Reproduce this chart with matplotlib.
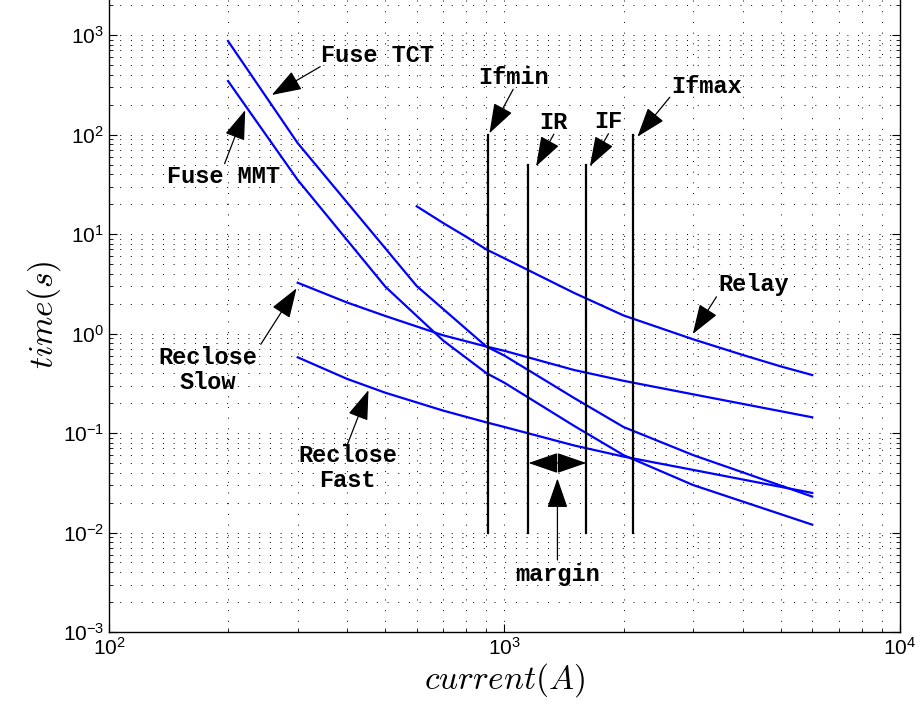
import numpy as np
import matplotlib
matplotlib.use('Agg')
import matplotlib.pyplot as plt

# time-current curves (current in A, time in s)
tct_i = [200, 300, 600, 900, 1000, 1500, 2000, 3000, 6000]
tct_t = [870, 82, 3.0, 0.74, 0.60, 0.225, 0.115, 0.06, 0.023]

mmt_i = [200, 300, 500, 700, 900, 1000, 1500, 2000, 3000, 6000]
mmt_t = [345, 35, 2.95, 0.85, 0.40, 0.32, 0.118, 0.06, 0.030, 0.012]

slow_i = [300, 400, 500, 700, 900, 1000, 1500, 2000, 3000, 6000]
slow_t = [3.24, 2.05, 1.5, 0.96, 0.74, 0.67, 0.43, 0.335, 0.245, 0.144]

fast_i = [300, 400, 500, 700, 900, 1000, 1500, 2000, 3000, 6000]
fast_t = [0.577, 0.35, 0.254, 0.168, 0.128, 0.115, 0.075, 0.058, 0.0426, 0.025]

relay_i = [600, 700, 800, 900, 1000, 1500, 2000, 3000, 4000, 5000, 6000]
relay_t = [19, 12.9, 9.4, 7.0, 5.7, 2.56, 1.52, 0.875, 0.61, 0.467, 0.383]

# fault current markers
mark_names = ['Ifmin', 'IR', 'IF', 'Ifmax']
mark_i = [910, 1150, 1610, 2110]
mark_top = [100, 50, 50, 100]
mark_bottom = 0.01

plt.rcParams['mathtext.fontset'] = 'cm'
plt.rcParams['font.family'] = ['Liberation Sans', 'DejaVu Sans']

fig = plt.figure(figsize=(9.16, 7.17), dpi=100)
# axes run up past the top edge of the figure
ax = fig.add_axes([0.119, 0.1185, 0.8635, 0.8842])

blue = (0, 0, 1)
for xs, ys in [(tct_i, tct_t), (mmt_i, mmt_t), (slow_i, slow_t),
               (fast_i, fast_t), (relay_i, relay_t)]:
    ax.plot(xs, ys, color=blue, lw=1.6)

for x, top in zip(mark_i, mark_top):
    ax.plot([x, x], [mark_bottom, top], color='k', lw=1.6)

ax.set_xscale('log')
ax.set_yscale('log')
ax.set_xlim(1e2, 1e4)
ax.set_ylim(1e-3, 10 ** (3 + 37 / 99.5))

ax.grid(True, which='both', color='k', lw=0.7, linestyle=(0, (1, 10)))
ax.tick_params(which='both', direction='in', top=False, right=True,
               labelsize=15)
ax.tick_params(which='major', length=6)
ax.tick_params(which='minor', length=3)
for s in ax.spines.values():
    s.set_linewidth(1.0)
ax.spines['top'].set_visible(False)

ax.set_xlabel(r'$current(A)$', fontsize=24, labelpad=2)
ax.set_ylabel(r'$time(s)$', fontsize=24, labelpad=0)

mono = dict(family='Liberation Mono', weight='bold', size=17)
head = dict(arrowstyle='-|>,head_length=1.1,head_width=0.38',
            color='k', lw=0.9, mutation_scale=17, shrinkA=0, shrinkB=0)


def label(text, xy_text, xy_tail, xy_tip):
    ax.text(xy_text[0], xy_text[1], text, ha='center', va='center',
            linespacing=1.1, **mono)
    ax.annotate('', xy=xy_tip, xytext=xy_tail, arrowprops=head)


label('Fuse TCT', (477, 630), (342, 481), (258, 250))
label('Fuse MMT', (195, 37.7), (196, 51), (221, 176))
label('Ifmin', (1052, 376), (1052, 285), (916, 103))
label('IR', (1333, 131), (1333, 101), (1202, 48))
label('IF', (1832, 135), (1832, 102), (1644, 48))
label('Ifmax', (3243, 307), (2618, 237), (2168, 95))
label('Relay', (4256, 3.12), (3436, 2.34), (2992, 0.99))
label('Reclose\nSlow', (178, 0.43), (242, 0.78), (298, 2.85))
label('Reclose\nFast', (401, 0.0442), (401, 0.0775), (453, 0.27))
label('margin', (1361, 0.0038), (1361, 0.0053), (1361, 0.035))

# margin between recloser and fuse currents
ax.annotate('', xy=(mark_i[1], 0.05), xytext=(mark_i[2], 0.05),
            arrowprops=dict(arrowstyle='<|-|>,head_length=1.1,head_width=0.38',
                            color='k', lw=0.9, mutation_scale=17,
                            shrinkA=0, shrinkB=0))

fig.savefig('out.png', dpi=100)
